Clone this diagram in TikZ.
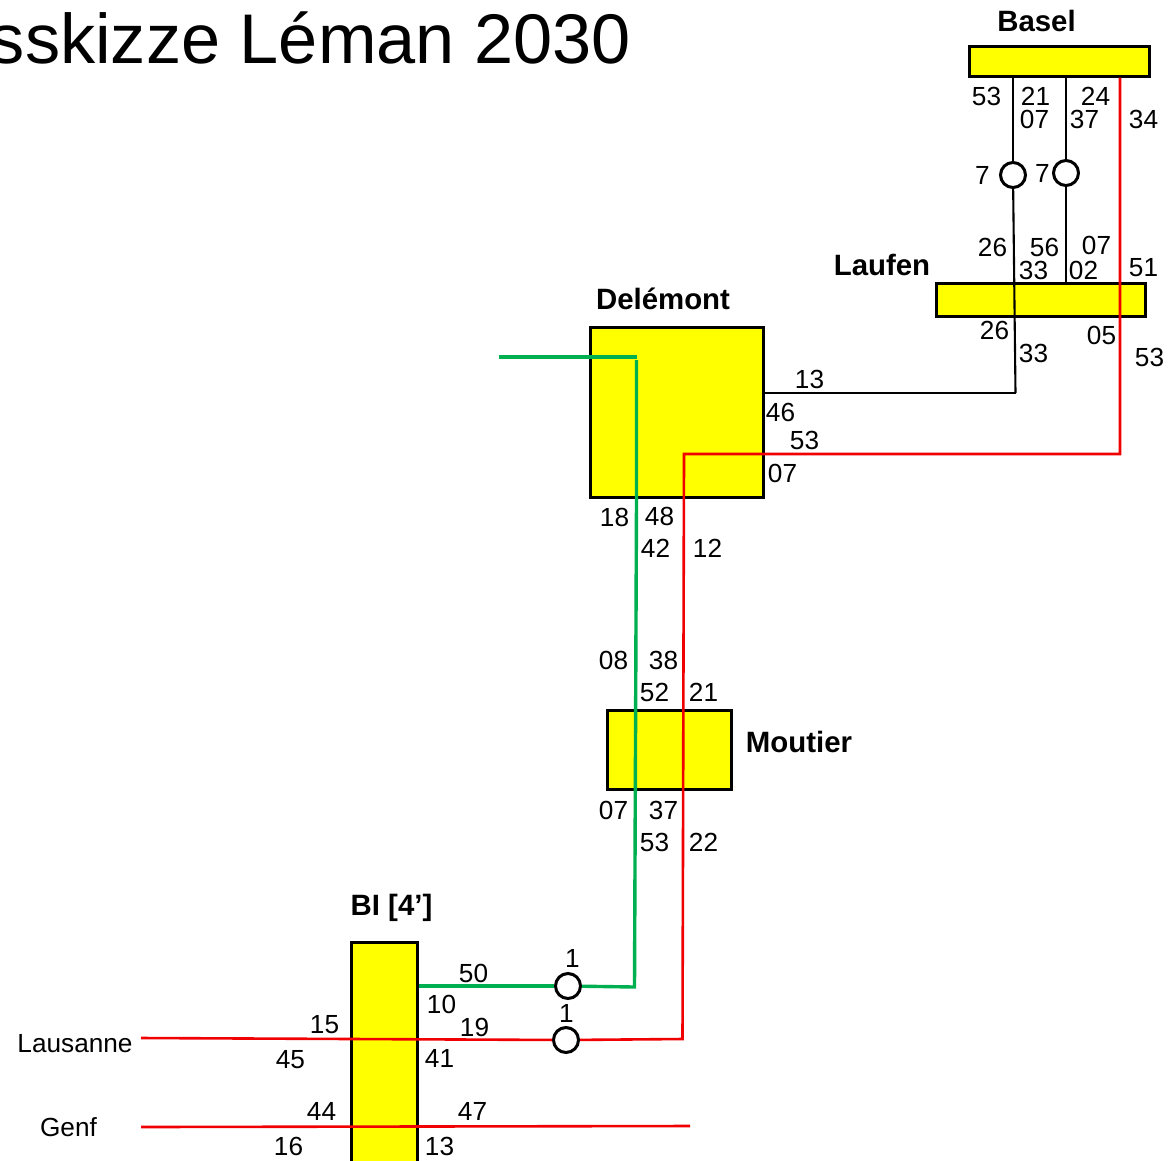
\documentclass[tikz,border=0pt]{standalone}
\usepackage{fontspec}
\setmainfont{Liberation Sans}
\definecolor{gruen}{HTML}{00B050}
\definecolor{rot}{HTML}{F00000}
\definecolor{gelb}{HTML}{FFFF00}
\tikzset{
  stationbox/.style={draw=black, fill=gelb, line width=3pt, inner sep=0pt},
  halt/.style={circle, draw=black, fill=white, line width=3pt, minimum size=25pt, inner sep=0pt},
  num/.style={inner sep=0pt, xshift=0.5pt, yshift=-0.5pt, font=\fontsize{26.2}{28}\selectfont},
  stadt/.style={inner sep=0pt, font=\fontsize{29.4}{31}\selectfont\bfseries},
  schwarz/.style={draw=black, line width=2.1pt},
  rotlinie/.style={draw=rot, line width=2.6pt},
  gruenlinie/.style={draw=gruen, line width=3.4pt}
}
\begin{document}
\begin{tikzpicture}[x=1pt, y=-1pt]
  \useasboundingbox (0,0) rectangle (1169,1160);
  \node[stationbox, minimum width=180pt, minimum height=30pt] (basel) at (1059,61) {};
  \node[stationbox, minimum width=209pt, minimum height=33pt] (laufen) at (1040.5,299.5) {};
  \node[stationbox, minimum width=173pt, minimum height=170pt] (delemont) at (676.5,412) {};
  \node[stationbox, minimum width=124pt, minimum height=79pt] (moutier) at (669,749.5) {};
  \node[stationbox, minimum width=66pt, minimum height=260pt] (bi) at (384,1072) {};

  \node[halt] (halta) at (1013,175) {};
  \node[halt] (haltb) at (1066,173) {};
  \node[halt] (haltc) at (568,986) {};
  \node[halt] (haltd) at (566,1040) {};

  \coordinate (ecke13) at (1015.5,393);
  \coordinate (eckerot) at (1120,454);
  \coordinate (knickrot) at (684,454);
  \coordinate (fussrot) at (682.5,1039);
  \coordinate (lausanneende) at (141,1038);
  \coordinate (genfende) at (141,1127);
  \coordinate (genfrechts) at (690,1126);
  \coordinate (gruenende) at (499,357);
  \coordinate (gruenecke) at (637,357);
  \coordinate (gruenoben) at (636.5,360);
  \coordinate (gruenfuss) at (634.5,987);

  \draw[schwarz] (basel.south -| halta) -- (halta);
  \draw[schwarz] (halta) -- (ecke13);
  \draw[schwarz, line width=2.8pt] (ecke13) -- (delemont.east |- ecke13);
  \draw[schwarz] (basel.south -| haltb) -- (haltb);
  \draw[schwarz] (haltb) -- (laufen.north -| haltb);

  \draw[rotlinie] (basel.south -| eckerot) -- (eckerot) -- (knickrot) -- (fussrot) -- (haltd);
  \draw[rotlinie] (haltd) -- (lausanneende);
  \draw[rotlinie] (genfende) -- (genfrechts);

  \draw[gruenlinie] (gruenende) -- (gruenecke);
  \draw[gruenlinie] (gruenoben) -- (delemont.south -| gruenoben) -- (gruenfuss) -- (haltc);
  \draw[gruenlinie] (haltc) -- (bi.east |- haltc);

  \foreach \x/\y/\t in {986/96/53, 1035/96/21, 1095/96/24, 1034/119/07, 1084/119/37, 1143/119/34,
      982/175/7, 1042/173/7, 992/247/26, 1044/247/56, 1096/245/07, 1033/270/33, 1083/270/02, 1143/267/51,
      994/330/26, 1101/335/05, 1033/353/33, 1149/357/53,
      809/379/13, 780/412/46, 804/440/53, 782/473/07, 614/517/18, 659/516/48, 655/548/42, 707/548/12,
      613/660/08, 663/660/38, 654/692/52, 703/692/21, 613/810/07, 663/810/37, 654/842/53, 703/842/22,
      473/973/50, 441/1004/10, 572/958/1, 566/1013/1, 474/1027/19, 439/1058/41, 472/1111/47, 439/1146/13,
      324/1024/15, 290/1059/45, 321/1111/44, 288/1146/16} {
    \node[num] (n\x-\y) at (\x,\y) {\t};
  }

  \node[num] (lausanne) at (74.5,1043) {Lausanne};
  \node[num] (genf) at (68,1127) {Genf};

  \node[stadt] (lbasel) at (1036.5,21) {Basel};
  \node[stadt] (llaufen) at (882,265) {Laufen};
  \node[stadt] (ldelemont) at (663,299) {Delémont};
  \node[stadt] (lmoutier) at (799,742) {Moutier};
  \node[stadt] (lbi) at (391.5,908) {BI [4’]};

  \node[anchor=east, inner sep=0pt, font=\fontsize{70.3}{72}\selectfont] (titel) at (631,37.5) {sskizze Léman 2030};
\end{tikzpicture}
\end{document}
